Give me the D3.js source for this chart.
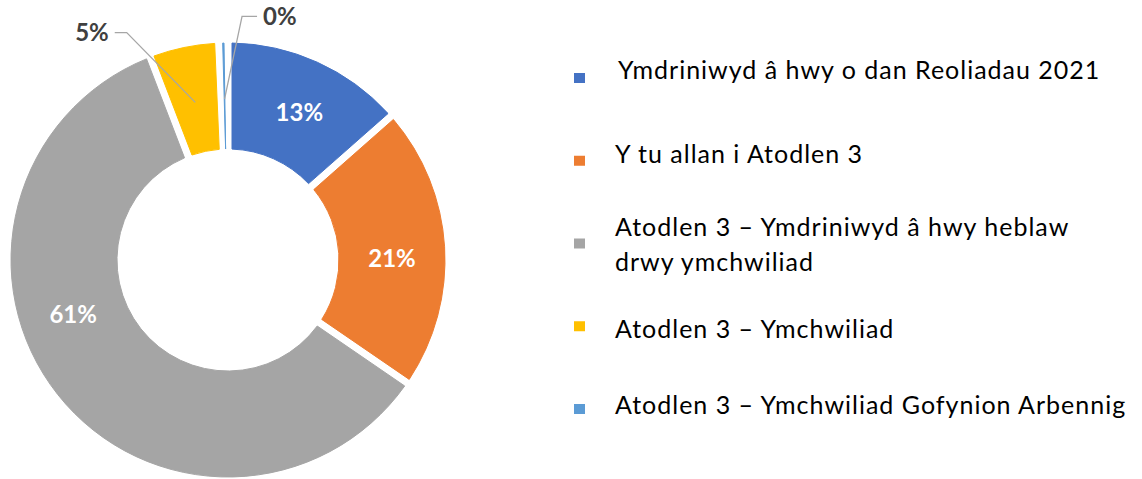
<!DOCTYPE html>
<html>
<head>
<meta charset="utf-8">
<script src="https://cdn.jsdelivr.net/npm/d3@7"></script>
<style>
body { margin: 0; background: #fff; }
svg { display: block; font-family: Lato, "Open Sans", sans-serif; }
</style>
</head>
<body>
<div id="container"></div>
<script>
///data
const categories = [
  "Ymdriniwyd â hwy o dan Reoliadau 2021",
  "Y tu allan i Atodlen 3",
  "Atodlen 3 – Ymdriniwyd â hwy heblaw|drwy ymchwiliad",
  "Atodlen 3 – Ymchwiliad",
  "Atodlen 3 – Ymchwiliad Gofynion Arbennig"
];
const shares = [13.3, 21.1, 60.8, 4.7, 0.1];
const colors = ["#4472C4", "#ED7D31", "#A5A5A5", "#FFC000", "#5B9BD5"];

///vars
let w = 1142,
h = 479,
cx = 228,
cy = 260,
outerR = 217,
innerR = 111,
gap = 8;

let svg = d3.select("#container").
append("svg").
attr("width", w).
attr("height", h);

const pie = d3.pie().sort(null).value(d => d).padAngle(gap / outerR);
const arc = d3.arc().innerRadius(innerR).outerRadius(outerR).padRadius(outerR);
const arcs = pie(shares);

let g = svg.append("g").attr("transform", "translate(" + cx + "," + cy + ")");

g.selectAll("path.slice").
data(arcs).
join("path").
attr("class", "slice").
attr("d", arc).
attr("fill", (d, i) => colors[i]).
attr("stroke", (d, i) => colors[i]).
attr("stroke-width", 1);

///labels - inside ones sit on the centroid, 61% is pushed round a bit like excel does
const toRad = a => a * Math.PI / 180;
const polar = (r, a) => [r * Math.sin(a), -r * Math.cos(a)];
const labelShift = [1.5, 3, 19, 0, 0]; // degrees
const outside = [false, false, false, true, true];
const midR = (innerR + outerR) / 2;

arcs.forEach((d, i) => {
  const mid = (d.startAngle + d.endAngle) / 2;
  const txt = Math.round(d.data) + "%";
  if (!outside[i]) {
    const p = polar(midR, mid + toRad(labelShift[i]));
    g.append("text").
    attr("x", p[0]).
    attr("y", p[1]).
    attr("dy", "0.36em").
    attr("text-anchor", "middle").
    style("font-size", "24px").
    style("font-weight", "bold").
    style("fill", "#fff").
    text(txt);
  }
});

///leader lines for the small ones
const leader = [
null, null, null,
{ r: 249, a: -24, dir: -1, run: 12 },
{ r: 244, a: 3.3, dir: 1, run: 15 }];

arcs.forEach((d, i) => {
  if (!outside[i]) return;
  const L = leader[i];
  const mid = (d.startAngle + d.endAngle) / 2;
  const p0 = polar(midR - 3, mid);
  const p1 = polar(L.r, toRad(L.a));
  const p2 = [p1[0] + L.dir * L.run, p1[1]];
  g.append("path").
  attr("d", d3.line()([p0, p1, p2])).
  attr("fill", "none").
  attr("stroke", "#A6A6A6").
  attr("stroke-width", 1.3);
  g.append("text").
  attr("x", p2[0] + L.dir * 6).
  attr("y", p2[1]).
  attr("dy", "0.36em").
  attr("text-anchor", L.dir < 0 ? "end" : "start").
  style("font-size", "24px").
  style("font-weight", "bold").
  style("fill", "#404040").
  text(Math.round(d.data) + "%");
});

///legend - markers evenly spaced, text sits a little off them like in the original
const legendY = d3.scaleLinear().domain([0, categories.length - 1]).range([78, 409]);
const textNudge = [-7, -5.5, 1.5, 3.5, -3.5];
let legend = svg.append("g").attr("id", "legend");
let items = legend.selectAll(".legend-item").
data(categories).
join("g").
attr("class", "legend-item").
attr("transform", (d, i) => "translate(574," + legendY(i) + ")");

items.append("rect").
attr("x", 0).
attr("y", -5).
attr("width", 11).
attr("height", 10).
attr("fill", (d, i) => colors[i]);

items.each(function (d, i) {
  const lines = d.split("|");
  const lh = 35;
  const t = d3.select(this).append("text").
  style("font-size", "25px").
  style("letter-spacing", "1px").
  style("fill", "#000");
  lines.forEach((ln, j) => {
    t.append("tspan").
    attr("x", i === 0 ? 44 : 41).
    attr("y", 8 + textNudge[i] - (lines.length - 1) * lh / 2 + j * lh).
    text(ln);
  });
});
</script>
</body>
</html>
